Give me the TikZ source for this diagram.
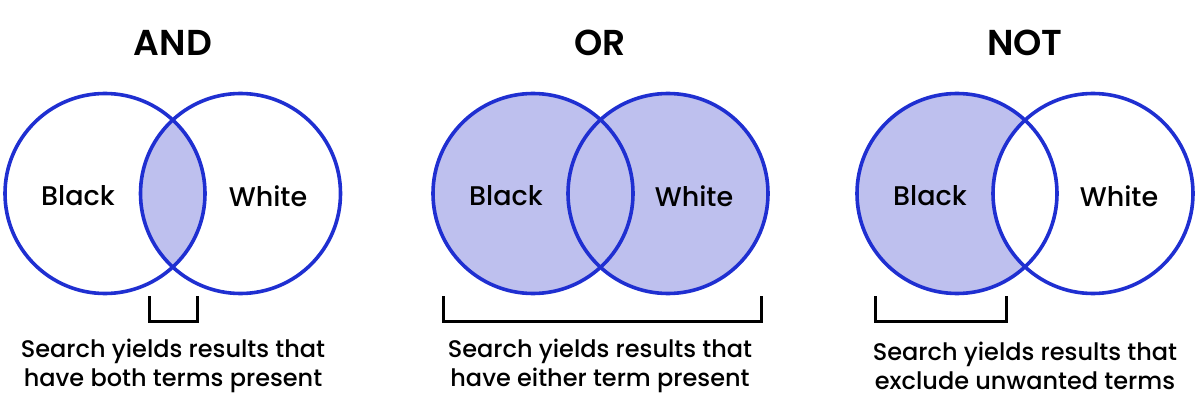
\documentclass[tikz,border=0pt]{standalone}
\usepackage{fontspec}
\setmainfont{Poppins}[UprightFont={* Medium},BoldFont={* SemiBold}]
\definecolor{vblue}{HTML}{1F2FD1}
\definecolor{vfill}{HTML}{BEC0EE}
\begin{document}
\begin{tikzpicture}[x=1pt,y=-1pt,
  ring/.style={draw=vblue,line width=3.6pt},
  brack/.style={draw=black,line width=3pt,line join=miter},
  title/.style={font=\fontsize{36}{40}\selectfont\bfseries,inner sep=0pt},
  term/.style={font=\fontsize{27}{30}\selectfont,inner sep=0pt},
  desc/.style={font=\fontsize{24}{29.5}\selectfont,align=center,inner sep=0pt}]
\useasboundingbox (0,0) rectangle (1200,409);
% AND
\begin{scope}
  \clip (105,193.5) circle (100);
  \fill[vfill] (240.5,193.5) circle (100);
\end{scope}
\draw[ring] (105,193.5) circle (100);
\draw[ring] (240.5,193.5) circle (100);
% OR
\fill[vfill] (533,193.5) circle (100);
\fill[vfill] (668,193.5) circle (100);
\draw[ring] (533,193.5) circle (100);
\draw[ring] (668,193.5) circle (100);
% NOT
\fill[vfill] (957,193.5) circle (100);
\fill[white] (1093,193.5) circle (100);
\draw[ring] (957,193.5) circle (100);
\draw[ring] (1093,193.5) circle (100);
% titles
\node[title] (tand) at (173,43) {AND};
\node[title] (tor) at (600,43) {OR};
\node[title] (tnot) at (1025,43) {NOT};
% terms
\node[term] (b1) at (78,196) {Black};
\node[term] (w1) at (268,196) {White};
\node[term] (b2) at (506,196) {Black};
\node[term] (w2) at (694,196) {White};
\node[term] (b3) at (930,196) {Black};
\node[term] (w3) at (1119,196) {White};
% brackets
\draw[brack] (149,296) -- (149,321.5) -- (197,321.5) -- (197,296);
\draw[brack] (443,296) -- (443,321.5) -- (761,321.5) -- (761,296);
\draw[brack] (875,296) -- (875,321.5) -- (1006,321.5) -- (1006,296);
% descriptions
\node[desc] (d1) at (173,366) {Search yields results that\\have both terms present};
\node[desc] (d2) at (600,366) {Search yields results that\\have either term present};
\node[desc] (d3) at (1025,366) {Search yields results that\\exclude unwanted terms};
\end{tikzpicture}
\end{document}
